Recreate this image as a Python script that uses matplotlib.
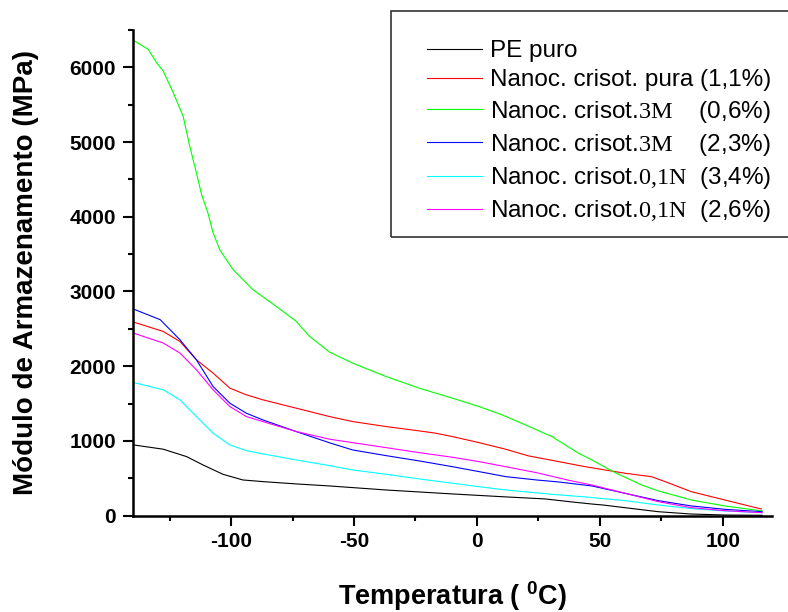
import matplotlib
matplotlib.use("Agg")
import matplotlib.pyplot as plt
from matplotlib.ticker import MultipleLocator
from matplotlib.patches import Rectangle

plt.rcParams['font.family'] = 'Liberation Sans'
plt.rcParams['font.weight'] = 'bold'
plt.rcParams['axes.unicode_minus'] = False
plt.rcParams['mathtext.fontset'] = 'custom'
plt.rcParams['mathtext.rm'] = 'Liberation Serif:weight=normal:style=normal'
plt.rcParams['mathtext.bf'] = 'Liberation Sans:weight=bold'

# storage modulus (MPa) vs temperature (C)
pe_t = [-140, -139.7, -127.6, -118.1, -111.4, -103.3, -95.2, -87.1, -73.5, -60, -37, -10,
        10.2, 27.8, 37.7, 46.7, 51.2, 60.2, 73.8, 87.2, 100.8, 116]
pe_e = [920, 946, 889, 790, 678, 553, 477, 455, 424, 397, 343, 290,
        253, 223, 186, 155, 142, 106, 52, 21, 8, 4]

pura_t = [-140, -139.7, -127.6, -120.8, -114.1, -107.3, -100.5, -93.8, -87.1, -73.5, -60,
          -50.6, -37, -23.5, -16.8, -10, 0.8, 11.6, 21, 30.5, 44, 60.2, 71, 76.5, 87.2,
          100.8, 115.7]
pura_e = [2450, 2591, 2465, 2331, 2086, 1907, 1706, 1617, 1550, 1438, 1326,
          1259, 1192, 1134, 1103, 1058, 977, 889, 799, 740, 655, 567, 521, 455, 320,
          209, 88]

m3a_t = [-140, -139.7, -133.7, -130.3, -127.6, -123.5, -119.5, -116.8, -114.1, -112, -109.4,
         -107.3, -104.6, -99.2, -91.1, -81.6, -73.5, -68.1, -60, -50.6, -37, -23.5, -10,
         0.8, 10.2, 19.7, 30.5, 41.3, 46.7, 56.2, 67, 73.8, 87.2, 100.8, 116]
m3a_e = [6170, 6362, 6241, 6063, 5951, 5661, 5347, 4945, 4588, 4300, 4050,
         3784, 3559, 3292, 3024, 2800, 2600, 2400, 2190, 2042, 1862, 1706, 1572,
         1460, 1349, 1214, 1058, 835, 745, 575, 410, 330, 209, 129, 62]

m3b_t = [-140, -139.7, -128.8, -120.8, -114.1, -107.3, -100.5, -93.8, -87.1, -73.5, -60,
         -50.6, -37, -23.5, -10, 0.8, 11.6, 24.2, 33.3, 46.7, 60.2, 73.8, 87.2, 100.8, 116]
m3b_e = [2600, 2765, 2622, 2354, 2086, 1728, 1505, 1371, 1281, 1125, 975,
         879, 803, 732, 655, 589, 522, 477, 450, 397, 299, 200, 129, 84, 52]

n01a_t = [-140, -139.7, -127.6, -120.8, -114.1, -107.3, -100.5, -93.8, -87.1, -73.5, -60,
          -50.6, -37, -23.5, -10, 0.8, 11.6, 30.5, 44, 60.2, 73.8, 87.2, 100.8, 116]
n01a_e = [1640, 1782, 1684, 1550, 1326, 1103, 946, 870, 826, 745, 669,
          611, 553, 491, 433, 387, 343, 285, 250, 200, 142, 93, 62, 39]

n01b_t = [-140, -139.7, -127.6, -120.8, -114.1, -107.3, -100.5, -93.8, -87.1, -73.5, -60,
          -50.6, -37, -23.5, -10, 0.8, 11.6, 24.2, 37.7, 46.7, 60.2, 73.8, 87.2, 100.8, 116]
n01b_e = [2290, 2443, 2310, 2176, 1952, 1684, 1460, 1326, 1259, 1125, 1023,
          977, 910, 843, 781, 723, 655, 575, 470, 410, 299, 186, 106, 66, 39]

labels = ["PE puro",
          "Nanoc. crisot. pura (1,1%)",
          r"Nanoc. crisot.$\mathrm{3M}$    (0,6%)",
          r"Nanoc. crisot.$\mathrm{3M}$    (2,3%)",
          r"Nanoc. crisot.$\mathrm{0{,}1N}$  (3,4%)",
          r"Nanoc. crisot.$\mathrm{0{,}1N}$  (2,6%)"]
colors = ['black', 'red', '#00ff00', 'blue', 'cyan', 'magenta']
series = [(pe_t, pe_e), (pura_t, pura_e), (m3a_t, m3a_e),
          (m3b_t, m3b_e), (n01a_t, n01a_e), (n01b_t, n01b_e)]

W, H = 788, 612
fig = plt.figure(figsize=(W / 100, H / 100), dpi=100)
ax = fig.add_axes([132.7 / W, 1 - 515.6 / H, (772 - 132.7) / W, (515.6 - 30) / H])

for (t, e), c, lab in zip(series, colors, labels):
    ax.plot(t, e, color=c, lw=0.8, label=lab)

ax.set_xlim(-140, 120)
ax.set_ylim(0, 6500)
ax.xaxis.set_major_locator(MultipleLocator(50))
ax.xaxis.set_minor_locator(MultipleLocator(25))
ax.yaxis.set_major_locator(MultipleLocator(1000))
ax.yaxis.set_minor_locator(MultipleLocator(500))

for s in ['top', 'right']:
    ax.spines[s].set_visible(False)
for s in ['left', 'bottom']:
    ax.spines[s].set_linewidth(1.8)

ax.tick_params(which='major', direction='out', length=7, width=1.5, labelsize=15, pad=5)
ax.tick_params(which='minor', direction='out', length=3.5, width=1.5)

ax.set_ylabel("Módulo de Armazenamento (MPa)", fontsize=20, fontweight='bold', labelpad=22)
ax.set_xlabel(r"Temperatura ( $^{\mathbf{0}}$C)", fontsize=19.5, fontweight='bold', labelpad=20)

leg = ax.legend(loc='upper left', bbox_to_anchor=(427 / W, 1 - 40 / H),
                bbox_transform=fig.transFigure, frameon=False, borderpad=0,
                borderaxespad=0, handlelength=2.25, handletextpad=0.33,
                labelspacing=0.3, prop={'size': 17.5, 'weight': 'normal'})

# legend box, running past the right edge as in the original
fig.add_artist(Rectangle((391 / W, 1 - 237 / H), (810 - 391) / W, (237 - 11) / H,
                         transform=fig.transFigure, fill=False, lw=1.2,
                         ec='#333333', clip_on=False))

fig.savefig("out.png", dpi=100)
